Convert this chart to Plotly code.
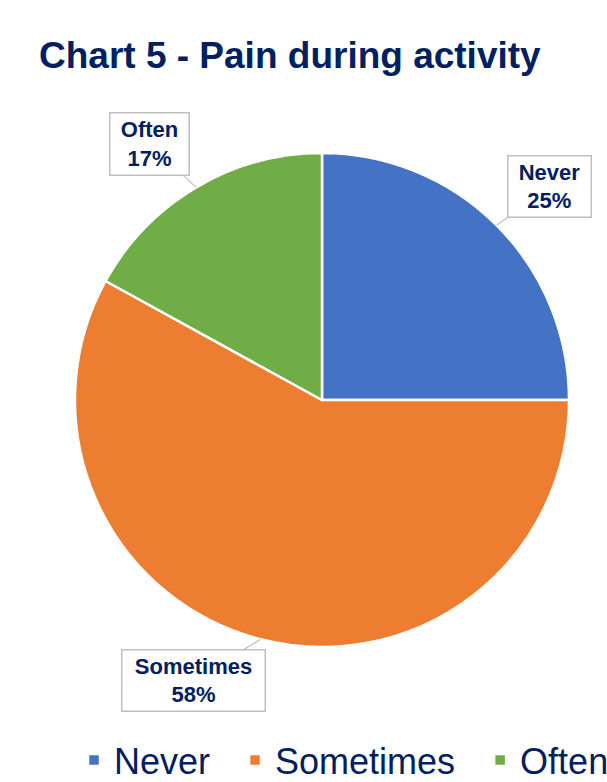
import math
import plotly.graph_objects as go

# ---- data ----
categories = ["Never", "Sometimes", "Often"]
values = [25, 58, 17]
colors = ["#4472C4", "#ED7D31", "#70AD47"]
title_text = "Chart 5 - Pain during activity"

W, H = 607, 782
NAVY = "#002060"

# pie geometry (layout)
cx_px, cy_px, r_px = 322, 400, 247
dom_x = [(cx_px - r_px) / W, (cx_px + r_px) / W]
dom_y = [(H - cy_px - r_px) / H, (H - cy_px + r_px) / H]

# legend labels padded for item spacing
legend_labels = [c + "\u00a0\u00a0" for c in categories]

fig = go.Figure()
fig.add_trace(go.Pie(
    labels=legend_labels,
    values=values,
    sort=False,
    direction="clockwise",
    rotation=0,
    marker=dict(colors=colors, line=dict(color="white", width=2.5)),
    textinfo="none",
    hoverinfo="label+percent",
    domain=dict(x=dom_x, y=dom_y),
))

# data labels (callout boxes), tips at slice mid-angles on the rim
box_offsets = [(52.5, -38.5, 85, 63), (-67.5, 41.5, 145, 63), (-46.5, -43, 81, 64)]
total = sum(values)
cum = 0
annotations = []
for cat, v, (ax, ay, bw, bh) in zip(categories, values, box_offsets):
    mid = (cum + v / 2) / total * 2 * math.pi
    cum += v
    tx = cx_px + r_px * math.sin(mid)
    ty = cy_px - r_px * math.cos(mid)
    pct = round(v / total * 100)
    annotations.append(dict(
        x=tx / W, y=(H - ty) / H, xref="paper", yref="paper",
        text=f"<b>{cat}</b><br><b>{pct}%</b>",
        showarrow=True, arrowhead=0, arrowwidth=1.2, arrowcolor="#bfbfbf",
        ax=ax, ay=ay, standoff=0,
        font=dict(family="Liberation Sans, Arial, sans-serif", size=22, color=NAVY),
        bgcolor="white", bordercolor="#bfbfbf", borderwidth=1.5, borderpad=0,
        width=bw - 3, height=bh - 3, align="center", valign="middle",
    ))

fig.update_layout(
    width=W, height=H,
    margin=dict(l=0, r=0, t=0, b=0, autoexpand=False),
    paper_bgcolor="white", plot_bgcolor="white",
    title=dict(
        text=f"<b>{title_text}</b>",
        x=39 / W, xanchor="left", xref="paper",
        y=1 - 55 / H, yanchor="middle", yref="container",
        font=dict(family="Liberation Sans, Arial, sans-serif", size=37, color=NAVY),
    ),
    showlegend=True,
    legend=dict(
        orientation="h",
        x=(94 - 20) / W, xanchor="left",
        y=(H - 760) / H, yanchor="middle",
        font=dict(family="Liberation Sans, Arial, sans-serif", size=36, color=NAVY),
        bgcolor="rgba(0,0,0,0)",
        itemclick=False,
    ),
    annotations=annotations,
)

fig.write_html("out.html")
